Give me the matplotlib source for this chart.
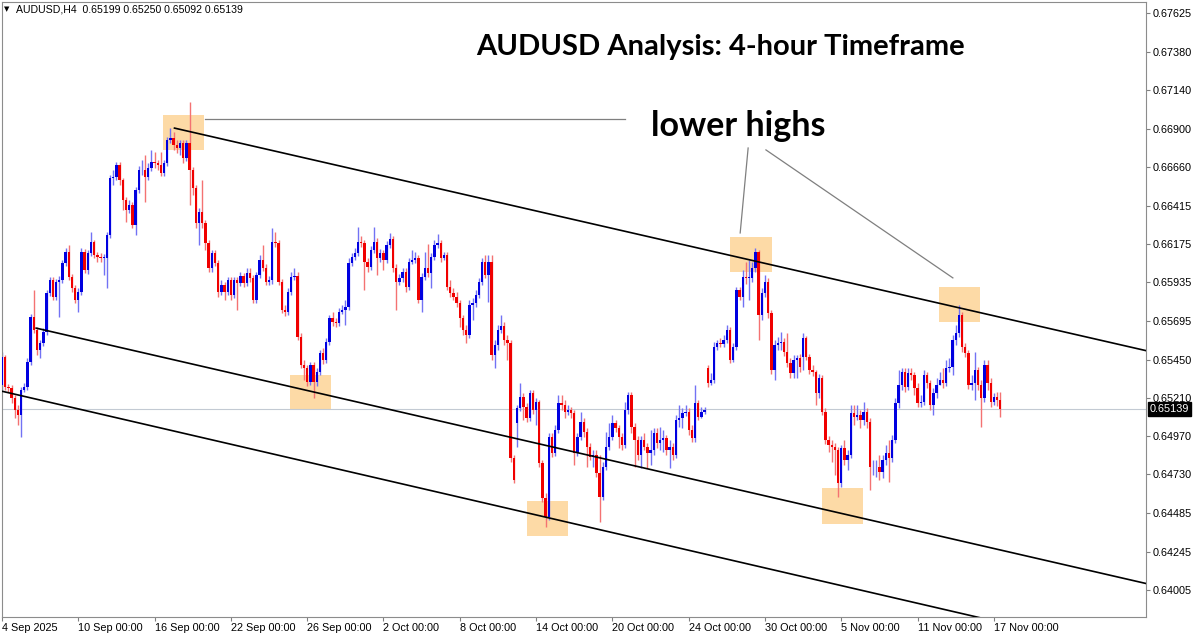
import matplotlib
matplotlib.use("Agg")
import matplotlib.pyplot as plt
import matplotlib.transforms as mtransforms
from matplotlib.patches import Rectangle
import numpy as np

# ---------------- data (AUDUSD H4 candles) ----------------
bar_open = [
    0.65292, 0.65467, 0.65279, 0.65273, 0.65210, 0.65134, 0.65103, 0.65260, 0.65279, 0.65435,
    0.65718, 0.65636, 0.65511, 0.65555, 0.65623, 0.65868, 0.65950, 0.65843, 0.65937, 0.65950,
    0.66056, 0.66125, 0.65969, 0.65900, 0.65825, 0.65874, 0.66125, 0.66013, 0.66119, 0.66188,
    0.66107, 0.66094, 0.66088, 0.66088, 0.66233, 0.66590, 0.66596, 0.66672, 0.66578, 0.66452,
    0.66389, 0.66421, 0.66296, 0.66515, 0.66640, 0.66640, 0.66596, 0.66653, 0.66690, 0.66684,
    0.66672, 0.66621, 0.66684, 0.66829, 0.66841, 0.66798, 0.66779, 0.66810, 0.66716, 0.66810,
    0.66640, 0.66528, 0.66308, 0.66376, 0.66308, 0.66182, 0.66025, 0.66119, 0.66056, 0.65874,
    0.65919, 0.65874, 0.65950, 0.65856, 0.65950, 0.65931, 0.65975, 0.65931, 0.65994, 0.65963,
    0.65825, 0.65982, 0.66075, 0.66025, 0.65937, 0.65950, 0.66188, 0.66182, 0.65937, 0.65762,
    0.65749, 0.65874, 0.65969, 0.65975, 0.65592, 0.65417, 0.65398, 0.65310, 0.65417, 0.65310,
    0.65372, 0.65492, 0.65448, 0.65561, 0.65712, 0.65686, 0.65680, 0.65749, 0.65762, 0.65781,
    0.66056, 0.66094, 0.66119, 0.66188, 0.66182, 0.66062, 0.66031, 0.66138, 0.66188, 0.66088,
    0.66119, 0.66075, 0.66170, 0.66208, 0.66025, 0.65937, 0.65963, 0.66000, 0.65906, 0.66062,
    0.66075, 0.66088, 0.65825, 0.65969, 0.66025, 0.65994, 0.66094, 0.66170, 0.66182, 0.66088,
    0.66107, 0.65906, 0.65868, 0.65843, 0.65806, 0.65712, 0.65636, 0.65605, 0.65794, 0.65806,
    0.65856, 0.65937, 0.66062, 0.65982, 0.66062, 0.65480, 0.65543, 0.65636, 0.65661, 0.65574,
    0.65555, 0.64833, 0.65052, 0.65147, 0.65216, 0.65153, 0.65084, 0.65241, 0.65134, 0.65184,
    0.64801, 0.64582, 0.64462, 0.64965, 0.64864, 0.65009, 0.65178, 0.65166, 0.65121, 0.65134,
    0.65115, 0.64864, 0.64965, 0.65058, 0.64996, 0.64902, 0.64839, 0.64852, 0.64739, 0.64588,
    0.64776, 0.64902, 0.64965, 0.65052, 0.65021, 0.64965, 0.64915, 0.65134, 0.65229, 0.65027,
    0.64946, 0.64852, 0.64946, 0.64902, 0.64864, 0.64883, 0.64990, 0.64927, 0.64946, 0.64959,
    0.64883, 0.64902, 0.64852, 0.65071, 0.65084, 0.65115, 0.65121, 0.65009, 0.64959, 0.65178,
    0.65090, 0.65121, 0.65398, 0.65304, 0.65323, 0.65530, 0.65555, 0.65549, 0.65574, 0.65636,
    0.65448, 0.65530, 0.65887, 0.65843, 0.65969, 0.65963, 0.65963, 0.66025, 0.66125, 0.65731,
    0.65868, 0.65937, 0.65743, 0.65385, 0.65543, 0.65555, 0.65561, 0.65498, 0.65429, 0.65366,
    0.65448, 0.65461, 0.65467, 0.65586, 0.65467, 0.65385, 0.65372, 0.65241, 0.65335, 0.65121,
    0.64946, 0.64915, 0.64902, 0.64883, 0.64676, 0.64896, 0.64820, 0.64852, 0.65115, 0.65090,
    0.65103, 0.65071, 0.65121, 0.65058, 0.64776, 0.64776, 0.64776, 0.64745, 0.64820, 0.64864,
    0.64833, 0.64946, 0.65178, 0.65292, 0.65372, 0.65279, 0.65366, 0.65354, 0.65273, 0.65178,
    0.65184, 0.65354, 0.65304, 0.65166, 0.65241, 0.65292, 0.65323, 0.65304, 0.65398, 0.65404,
    0.65574, 0.65617, 0.65731, 0.65530, 0.65492, 0.65292, 0.65304, 0.65385, 0.65292, 0.65210,
    0.65417, 0.65304, 0.65184, 0.65216, 0.65199,
]

bar_high = [
    0.65498, 0.65480, 0.65298, 0.65292, 0.65229, 0.65166, 0.65279, 0.65304, 0.65461, 0.65737,
    0.65887, 0.65655, 0.65574, 0.65649, 0.65887, 0.65969, 0.65969, 0.65957, 0.65975, 0.66075,
    0.66151, 0.66170, 0.65988, 0.65919, 0.65900, 0.66151, 0.66145, 0.66138, 0.66251, 0.66201,
    0.66125, 0.66119, 0.66113, 0.66251, 0.66609, 0.66640, 0.66690, 0.66690, 0.66590, 0.66471,
    0.66452, 0.66439, 0.66534, 0.66665, 0.66703, 0.66735, 0.66684, 0.66766, 0.66753, 0.66703,
    0.66753, 0.66703, 0.66847, 0.66904, 0.66878, 0.66829, 0.66829, 0.66829, 0.66829, 0.67067,
    0.66659, 0.66547, 0.66402, 0.66578, 0.66327, 0.66201, 0.66138, 0.66138, 0.66075, 0.65950,
    0.65937, 0.65969, 0.65969, 0.65969, 0.65969, 0.66000, 0.65994, 0.66025, 0.66025, 0.65982,
    0.66000, 0.66107, 0.66170, 0.66050, 0.65975, 0.66277, 0.66251, 0.66201, 0.65957, 0.65794,
    0.65900, 0.66000, 0.66025, 0.66000, 0.65617, 0.65448, 0.65417, 0.65435, 0.65435, 0.65398,
    0.65511, 0.65524, 0.65586, 0.65731, 0.65749, 0.65712, 0.65775, 0.65794, 0.65825, 0.66088,
    0.66119, 0.66151, 0.66283, 0.66226, 0.66201, 0.66088, 0.66163, 0.66283, 0.66214, 0.66145,
    0.66138, 0.66195, 0.66245, 0.66226, 0.66050, 0.65988, 0.66025, 0.66025, 0.66088, 0.66138,
    0.66125, 0.66107, 0.65994, 0.66125, 0.66176, 0.66119, 0.66201, 0.66239, 0.66201, 0.66125,
    0.66125, 0.65950, 0.65900, 0.65874, 0.65825, 0.65731, 0.65667, 0.65825, 0.65837, 0.65887,
    0.65963, 0.66088, 0.66107, 0.66107, 0.66107, 0.65574, 0.65667, 0.65731, 0.65686, 0.65605,
    0.65574, 0.64852, 0.65166, 0.65304, 0.65241, 0.65178, 0.65260, 0.65260, 0.65210, 0.65197,
    0.64820, 0.64614, 0.64990, 0.64990, 0.65040, 0.65229, 0.65229, 0.65197, 0.65166, 0.65153,
    0.65134, 0.64990, 0.65121, 0.65084, 0.65021, 0.64927, 0.64883, 0.64883, 0.64852, 0.64807,
    0.64996, 0.65052, 0.65103, 0.65071, 0.65040, 0.64990, 0.65184, 0.65247, 0.65247, 0.65052,
    0.64971, 0.64971, 0.64990, 0.64927, 0.65009, 0.65021, 0.65021, 0.65027, 0.65009, 0.64977,
    0.64946, 0.64927, 0.65103, 0.65166, 0.65147, 0.65166, 0.65147, 0.65040, 0.65292, 0.65197,
    0.65153, 0.65153, 0.65417, 0.65366, 0.65561, 0.65574, 0.65586, 0.65605, 0.65667, 0.65655,
    0.65555, 0.65906, 0.65906, 0.66013, 0.66062, 0.66075, 0.66062, 0.66151, 0.66138, 0.65900,
    0.65982, 0.65963, 0.65762, 0.65574, 0.65592, 0.65623, 0.65586, 0.65617, 0.65461, 0.65480,
    0.65480, 0.65486, 0.65617, 0.65599, 0.65486, 0.65417, 0.65385, 0.65360, 0.65354, 0.65147,
    0.64971, 0.64946, 0.64927, 0.64902, 0.64915, 0.64946, 0.64883, 0.65166, 0.65166, 0.65166,
    0.65134, 0.65184, 0.65147, 0.65084, 0.64820, 0.64820, 0.64852, 0.64852, 0.64915, 0.64946,
    0.64977, 0.65210, 0.65385, 0.65398, 0.65398, 0.65398, 0.65398, 0.65372, 0.65304, 0.65229,
    0.65385, 0.65372, 0.65323, 0.65273, 0.65335, 0.65372, 0.65398, 0.65448, 0.65461, 0.65605,
    0.65667, 0.65794, 0.65749, 0.65555, 0.65511, 0.65354, 0.65498, 0.65404, 0.65323, 0.65448,
    0.65448, 0.65335, 0.65241, 0.65247, 0.65250,
]

bar_low = [
    0.65260, 0.65260, 0.65247, 0.65178, 0.65084, 0.65040, 0.64965, 0.65247, 0.65260, 0.65417,
    0.65617, 0.65480, 0.65461, 0.65536, 0.65605, 0.65849, 0.65825, 0.65825, 0.65718, 0.65931,
    0.66037, 0.65950, 0.65874, 0.65806, 0.65749, 0.65856, 0.65994, 0.65988, 0.66100, 0.66088,
    0.66062, 0.66062, 0.65982, 0.65900, 0.66214, 0.66547, 0.66578, 0.66547, 0.66389, 0.66314,
    0.66370, 0.66277, 0.66233, 0.66496, 0.66609, 0.66439, 0.66578, 0.66634, 0.66653, 0.66640,
    0.66602, 0.66602, 0.66665, 0.66810, 0.66766, 0.66747, 0.66735, 0.66684, 0.66697, 0.66421,
    0.66484, 0.66277, 0.66170, 0.66277, 0.66138, 0.66000, 0.66000, 0.66037, 0.65843, 0.65856,
    0.65825, 0.65856, 0.65825, 0.65837, 0.65762, 0.65912, 0.65906, 0.65912, 0.65937, 0.65806,
    0.65806, 0.65963, 0.66007, 0.65919, 0.65919, 0.65925, 0.66157, 0.65919, 0.65743, 0.65724,
    0.65731, 0.65856, 0.65950, 0.65574, 0.65398, 0.65323, 0.65285, 0.65292, 0.65210, 0.65285,
    0.65354, 0.65423, 0.65429, 0.65543, 0.65661, 0.65655, 0.65661, 0.65737, 0.65667, 0.65762,
    0.66037, 0.66075, 0.66100, 0.66157, 0.65887, 0.66000, 0.66013, 0.66119, 0.65982, 0.66062,
    0.66013, 0.66056, 0.66151, 0.66000, 0.65762, 0.65919, 0.65937, 0.65874, 0.65887, 0.66050,
    0.66056, 0.65806, 0.65749, 0.65950, 0.65969, 0.65900, 0.66075, 0.66151, 0.66062, 0.66075,
    0.65887, 0.65843, 0.65825, 0.65781, 0.65655, 0.65605, 0.65555, 0.65586, 0.65699, 0.65781,
    0.65837, 0.65919, 0.65963, 0.65812, 0.65448, 0.65398, 0.65511, 0.65617, 0.65543, 0.65448,
    0.64807, 0.64676, 0.64902, 0.65128, 0.65071, 0.65058, 0.65065, 0.65109, 0.65040, 0.64776,
    0.64556, 0.64400, 0.64444, 0.64839, 0.64845, 0.64990, 0.65134, 0.65084, 0.65103, 0.65084,
    0.64789, 0.64845, 0.64946, 0.64965, 0.64776, 0.64820, 0.64776, 0.64714, 0.64431, 0.64569,
    0.64758, 0.64883, 0.64946, 0.64996, 0.64896, 0.64883, 0.64896, 0.65109, 0.64990, 0.64776,
    0.64820, 0.64770, 0.64883, 0.64770, 0.64789, 0.64852, 0.64896, 0.64883, 0.64871, 0.64852,
    0.64770, 0.64820, 0.64833, 0.65027, 0.65021, 0.65096, 0.64977, 0.64933, 0.64933, 0.65071,
    0.65084, 0.65109, 0.65279, 0.65292, 0.65304, 0.65511, 0.65530, 0.65530, 0.65555, 0.65429,
    0.65435, 0.65511, 0.65825, 0.65781, 0.65925, 0.65825, 0.65937, 0.66000, 0.65574, 0.65699,
    0.65843, 0.65712, 0.65360, 0.65323, 0.65511, 0.65511, 0.65474, 0.65404, 0.65335, 0.65335,
    0.65335, 0.65372, 0.65385, 0.65448, 0.65360, 0.65348, 0.65166, 0.65210, 0.65103, 0.64921,
    0.64871, 0.64807, 0.64726, 0.64588, 0.64651, 0.64789, 0.64758, 0.64833, 0.65040, 0.65071,
    0.65021, 0.65040, 0.65021, 0.64632, 0.64726, 0.64714, 0.64695, 0.64707, 0.64789, 0.64682,
    0.64807, 0.64927, 0.65147, 0.65260, 0.65247, 0.65260, 0.65323, 0.65229, 0.65153, 0.65153,
    0.65166, 0.65273, 0.65134, 0.65103, 0.65210, 0.65292, 0.65273, 0.65285, 0.65372, 0.65354,
    0.65543, 0.65592, 0.65498, 0.65467, 0.65267, 0.65260, 0.65197, 0.65260, 0.65027, 0.65184,
    0.65260, 0.65153, 0.65166, 0.65160, 0.65092,
]

bar_close = [
    0.65467, 0.65279, 0.65273, 0.65210, 0.65134, 0.65103, 0.65260, 0.65279, 0.65435, 0.65718,
    0.65636, 0.65511, 0.65555, 0.65623, 0.65868, 0.65950, 0.65843, 0.65937, 0.65950, 0.66056,
    0.66125, 0.65969, 0.65900, 0.65825, 0.65874, 0.66125, 0.66013, 0.66119, 0.66188, 0.66107,
    0.66094, 0.66088, 0.66088, 0.66233, 0.66590, 0.66596, 0.66672, 0.66578, 0.66452, 0.66389,
    0.66421, 0.66296, 0.66515, 0.66640, 0.66640, 0.66596, 0.66653, 0.66690, 0.66684, 0.66672,
    0.66621, 0.66684, 0.66829, 0.66841, 0.66798, 0.66779, 0.66810, 0.66716, 0.66810, 0.66640,
    0.66528, 0.66308, 0.66376, 0.66308, 0.66182, 0.66025, 0.66119, 0.66056, 0.65874, 0.65919,
    0.65874, 0.65950, 0.65856, 0.65950, 0.65931, 0.65975, 0.65931, 0.65994, 0.65963, 0.65825,
    0.65982, 0.66075, 0.66025, 0.65937, 0.65950, 0.66188, 0.66182, 0.65937, 0.65762, 0.65749,
    0.65874, 0.65969, 0.65975, 0.65592, 0.65417, 0.65398, 0.65310, 0.65417, 0.65310, 0.65372,
    0.65492, 0.65448, 0.65561, 0.65712, 0.65686, 0.65680, 0.65749, 0.65762, 0.65781, 0.66056,
    0.66094, 0.66119, 0.66188, 0.66182, 0.66062, 0.66031, 0.66138, 0.66188, 0.66088, 0.66119,
    0.66075, 0.66170, 0.66208, 0.66025, 0.65937, 0.65963, 0.66000, 0.65906, 0.66062, 0.66075,
    0.66088, 0.65825, 0.65969, 0.66025, 0.65994, 0.66094, 0.66170, 0.66182, 0.66088, 0.66107,
    0.65906, 0.65868, 0.65843, 0.65806, 0.65712, 0.65636, 0.65605, 0.65794, 0.65806, 0.65856,
    0.65937, 0.66062, 0.65982, 0.66062, 0.65480, 0.65543, 0.65636, 0.65661, 0.65574, 0.65555,
    0.64833, 0.64695, 0.65147, 0.65216, 0.65153, 0.65084, 0.65241, 0.65134, 0.65184, 0.64801,
    0.64582, 0.64462, 0.64965, 0.64864, 0.65009, 0.65178, 0.65166, 0.65121, 0.65134, 0.65115,
    0.64864, 0.64965, 0.65058, 0.64996, 0.64902, 0.64839, 0.64852, 0.64739, 0.64588, 0.64776,
    0.64902, 0.64965, 0.65052, 0.65021, 0.64965, 0.64915, 0.65134, 0.65229, 0.65027, 0.64946,
    0.64852, 0.64946, 0.64902, 0.64864, 0.64883, 0.64990, 0.64927, 0.64946, 0.64959, 0.64883,
    0.64902, 0.64852, 0.65071, 0.65084, 0.65115, 0.65121, 0.65009, 0.64959, 0.65178, 0.65090,
    0.65121, 0.65134, 0.65304, 0.65323, 0.65530, 0.65555, 0.65549, 0.65574, 0.65636, 0.65448,
    0.65530, 0.65887, 0.65843, 0.65969, 0.65963, 0.65963, 0.66025, 0.66125, 0.65731, 0.65868,
    0.65937, 0.65743, 0.65385, 0.65543, 0.65555, 0.65561, 0.65498, 0.65429, 0.65366, 0.65448,
    0.65461, 0.65404, 0.65586, 0.65467, 0.65385, 0.65372, 0.65241, 0.65335, 0.65121, 0.64946,
    0.64915, 0.64902, 0.64883, 0.64676, 0.64896, 0.64820, 0.64852, 0.65115, 0.65090, 0.65103,
    0.65071, 0.65121, 0.65058, 0.64776, 0.64776, 0.64776, 0.64745, 0.64820, 0.64864, 0.64833,
    0.64946, 0.65178, 0.65292, 0.65372, 0.65279, 0.65366, 0.65354, 0.65273, 0.65178, 0.65184,
    0.65354, 0.65304, 0.65166, 0.65241, 0.65292, 0.65323, 0.65304, 0.65398, 0.65404, 0.65574,
    0.65617, 0.65731, 0.65530, 0.65492, 0.65292, 0.65304, 0.65385, 0.65292, 0.65210, 0.65417,
    0.65304, 0.65184, 0.65216, 0.65199, 0.65139,
]

date_tick_labels = ["4 Sep 2025", "10 Sep 00:00", "16 Sep 00:00", "22 Sep 00:00", "26 Sep 00:00",
                    "2 Oct 00:00", "8 Oct 00:00", "14 Oct 00:00", "20 Oct 00:00", "24 Oct 00:00",
                    "30 Oct 00:00", "5 Nov 00:00", "11 Nov 00:00", "17 Nov 00:00"]
date_tick_bars = [0, 24, 48, 72, 96, 120, 144, 168, 192, 216, 240, 264, 288, 312]

price_ticks = [0.67625, 0.67380, 0.67140, 0.66900, 0.66660, 0.66415, 0.66175, 0.65935,
               0.65695, 0.65450, 0.65210, 0.64970, 0.64730, 0.64485, 0.64245, 0.64005]

# channel lines: (bar, price) end points
channel_upper = [(54, 0.66904), (360, 0.65506)]
channel_middle = [(10.5, 0.65649), (360, 0.64045)]
channel_lower = [(0, 0.65252), (360, 0.63589)]

# highlighted swing points: (bar, price) centres
swing_boxes = [(57.2, 0.66876), (97.0, 0.65244), (171.6, 0.64451),
               (235.6, 0.66110), (264.4, 0.64532), (301.2, 0.65797)]

# ---------------- figure ----------------
W, H = 1200, 635
fig = plt.figure(figsize=(W / 100, H / 100), dpi=100)
ax = fig.add_axes([2 / W, 18 / H, 1144 / W, 615 / H])
ax.set_facecolor("white")

n = min(len(bar_open), len(bar_high), len(bar_low), len(bar_close))
o = np.array(bar_open[:n]); h = np.array(bar_high[:n])
l = np.array(bar_low[:n]); c = np.array(bar_close[:n])
x = np.arange(n)
up = c >= o

# highlight boxes (behind candles)
bw, bh = 12.9, 0.0022
for bx, by in swing_boxes:
    ax.add_patch(Rectangle((bx - bw / 2, by - bh / 2), bw, bh, facecolor="#FDDAA6",
                           edgecolor="none", zorder=1))

# current price line
last = c[-1]
ax.axhline(last, color="#c3cad3", lw=0.8, zorder=1.5)

# candles
ax.vlines(x, l, h, colors=np.where(up, "#7272f4", "#f47272"), linewidth=1.0, zorder=2)
body_bottom = np.minimum(o, c)
body_h = np.maximum(np.abs(c - o), 0.00003)
ax.bar(x, body_h, bottom=body_bottom, width=0.74,
       color=np.where(up, "#0000e0", "#f00000"), linewidth=0, zorder=3)

# channel lines
for seg in (channel_upper, channel_middle, channel_lower):
    ax.plot([seg[0][0], seg[1][0]], [seg[0][1], seg[1][1]], color="black", lw=1.2,
            zorder=4, solid_capstyle="butt")

# annotation lines
ax.plot([64, 196], [0.66960, 0.66960], color="#7f7f7f", lw=0.9, zorder=4)
ax.plot([234.7, 232.2], [0.66778, 0.66245], color="#7f7f7f", lw=0.9, zorder=4)
ax.plot([240.3, 299.1], [0.66766, 0.65963], color="#7f7f7f", lw=0.9, zorder=4)

# axes limits / ticks
ax.set_xlim(0.094, 359.85)
ax.set_ylim(0.638355, 0.67694)
ax.yaxis.tick_right()
ax.set_yticks(price_ticks)
ax.set_yticklabels([f"{p:.5f}" for p in price_ticks])
ax.set_xticks(date_tick_bars)
ax.set_xticklabels(date_tick_labels)
for lab in ax.get_xticklabels():
    lab.set_horizontalalignment("left")
for lab in ax.get_xticklabels() + ax.get_yticklabels():
    lab.set_fontfamily("Liberation Sans")
    lab.set_fontsize(7.8)
    lab.set_color("black")
ax.tick_params(axis="y", direction="out", length=3, width=0.8, color="#808080", pad=2)
ax.tick_params(axis="x", direction="out", length=3, width=0.8, color="#808080", pad=1)
for sp in ax.spines.values():
    sp.set_color("#8c8c8c")
    sp.set_linewidth(0.8)

# current price tag
trans = mtransforms.blended_transform_factory(ax.transAxes, ax.transData)
ax.text(1.0035, last, f"{last:.5f}", transform=trans, ha="left", va="center",
        fontsize=7.8, family="Liberation Sans", color="white", zorder=6, clip_on=False,
        bbox=dict(boxstyle="square,pad=0.18", fc="black", ec="black"))

# texts
fig.text(7 / W, 1 - 9 / H, "\u25bc", fontsize=5, family="DejaVu Sans", ha="center", va="center")
fig.text(16 / W, 1 - 10 / H, "AUDUSD,H4  0.65199 0.65250 0.65092 0.65139", fontsize=7.6,
         family="Liberation Sans", ha="left", va="center")
fig.text(720 / W, 1 - 47 / H, "AUDUSD Analysis: 4-hour Timeframe", fontsize=21,
         fontweight="bold", family="Lato", ha="center", va="center")
fig.text(738 / W, 1 - 126 / H, "lower highs", fontsize=24.5,
         fontweight="bold", family="Lato", ha="center", va="center")

fig.savefig("out.png", dpi=100)
